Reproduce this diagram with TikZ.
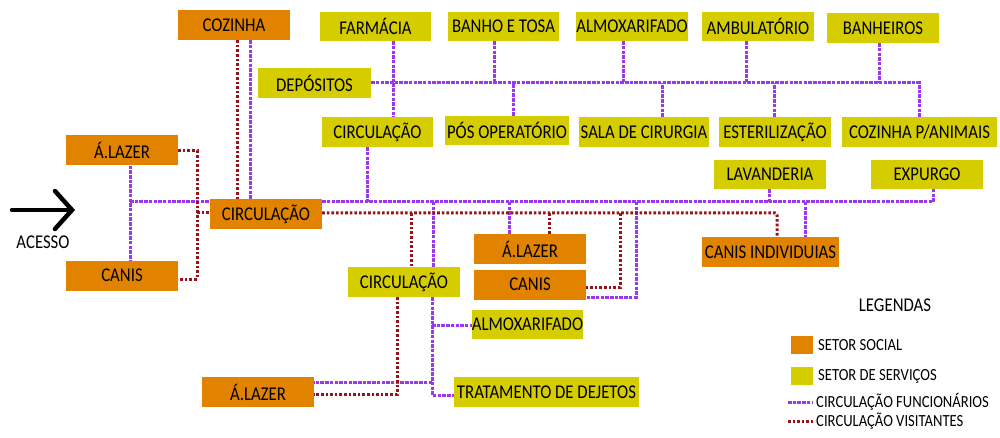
\documentclass[tikz,border=0pt]{standalone}
\usepackage{fontspec}
\setmainfont[FakeStretch=0.86]{Carlito}
\usetikzlibrary{arrows.meta}

\definecolor{laranja}{RGB}{226,131,0}
\definecolor{amarelo}{RGB}{213,205,0}
\definecolor{roxo}{RGB}{155,55,240}
\definecolor{vinho}{RGB}{150,20,25}

\begin{document}
\begin{tikzpicture}[x=1pt,y=-1pt,font=\fontsize{19.5}{22}\selectfont]
       \tikzstyle{every node}=[inner sep=0pt]
       \tikzstyle{social}=[fill=laranja, minimum height=30pt, minimum width=112pt]
       \tikzstyle{servico}=[fill=amarelo, minimum height=29pt, minimum width=112pt]
       \tikzstyle{func}=[roxo, line width=3pt, dash pattern=on 3.5pt off 1.2pt]
       \tikzstyle{visit}=[vinho, line width=3pt, dash pattern=on 2.6pt off 2pt]
       \tikzstyle{legtxt}=[anchor=west, font=\fontsize{17}{20}\selectfont]

       \useasboundingbox (0,0) rectangle (1000,438);

       % setor social
       \node[social] (cozinha)  at (234,25)    {COZINHA};
       \node[social] (lazer_a)  at (122,150.5) {Á.LAZER};
       \node[social] (circ_b)   at (266,214)   {CIRCULAÇÃO};
       \node[social] (canis_a)  at (122,275.5) {CANIS};
       \node[social] (lazer_b)  at (530,249)   {Á.LAZER};
       \node[social] (canis_b)  at (530,284.5) {CANIS};
       \node[social] (lazer_c)  at (258,392)   {Á.LAZER};
       \node[social, minimum width=137pt] (canis_ind) at (770.5,252) {CANIS INDIVIDUIAS};

       % setor de servicos
       \node[servico, minimum width=111pt] (farmacia) at (375.5,26.5) {FARMÁCIA};
       \node[servico, minimum width=111pt] (banho)    at (503.5,26.5) {BANHO E TOSA};
       \node[servico] (almox_a)   at (632,26.5)  {ALMOXARIFADO};
       \node[servico] (ambul)     at (758,26.5)  {AMBULATÓRIO};
       \node[servico, minimum height=30pt] (banheiros) at (883,28) {BANHEIROS};
       \node[servico, minimum width=113pt, minimum height=30pt] (depositos) at (314.5,83) {DEPÓSITOS};
       \node[servico, minimum width=111pt, minimum height=30pt] (circ_a) at (377.5,132) {CIRCULAÇÃO};
       \node[servico, minimum width=124pt] (posop) at (507,130.5) {PÓS OPERATÓRIO};
       \node[servico, minimum width=130pt, minimum height=30pt] (sala) at (644,132) {SALA DE CIRURGIA};
       \node[servico, minimum height=30pt] (esteril) at (775,132) {ESTERILIZAÇÃO};
       \node[servico, minimum width=155pt, minimum height=30pt] (coz_anim) at (919.5,132) {COZINHA P/ANIMAIS};
       \node[servico] (lavanderia) at (770,174.5) {LAVANDERIA};
       \node[servico] (expurgo)    at (927,174.5) {EXPURGO};
       \node[servico, minimum height=30pt] (circ_c) at (404,282) {CIRCULAÇÃO};
       \node[servico, minimum width=111pt] (almox_b) at (527.5,324.5) {ALMOXARIFADO};
       \node[servico, minimum width=185pt, minimum height=30pt] (tratamento) at (546.5,392) {TRATAMENTO DE DEJETOS};

       % acesso
       \coordinate (ac_a) at (12,210);
       \coordinate (ac_b) at (75,210);
       \draw[line width=4.5pt, line cap=round, -{Straight Barb[length=17pt,width=38pt,line cap=round]}] (ac_a) -- (ac_b);
       \node (acesso) at (43,242) {ACESSO};

       % circulacao funcionarios
       \draw[func] (lazer_a.south -| 130,0) -- (canis_a.north -| 130,0);
       \draw[func] (130,202) -- (circ_b.west |- 0,202);
       \draw[func] (cozinha.south -| 250,0) -- (circ_b.north -| 250,0);
       \draw[func] (circ_b.east |- 0,202) -- (933,202) -- (expurgo.south -| 933,0);
       \draw[func] (circ_a.south -| 367,0) -- (367,202);
       \draw[func] (depositos.east) -- (919,83) -- (coz_anim.north -| 919,0);
       \draw[func] (farmacia.south -| 393,0) -- (circ_a.north -| 393,0);
       \draw[func] (banho.south -| 494,0) -- (494,83);
       \draw[func] (posop.north -| 513,0) -- (513,83);
       \draw[func] (almox_a.south -| 623,0) -- (623,83);
       \draw[func] (sala.north -| 662,0) -- (662,83);
       \draw[func] (ambul.south -| 746,0) -- (746,83);
       \draw[func] (esteril.north -| 774,0) -- (774,83);
       \draw[func] (banheiros.south -| 879,0) -- (879,83);
       \draw[func] (lavanderia.south -| 769,0) -- (769,202);
       \draw[func] (805,202) -- (canis_ind.north -| 805,0);
       \draw[func] (433,202) -- (circ_c.north -| 433,0);
       \draw[func] (circ_c.south -| 432,0) -- (432,395) -- (tratamento.west |- 0,395);
       \draw[func] (432,325) -- (almox_b.west |- 0,325);
       \draw[func] (432,382) -- (lazer_c.east |- 0,382);
       \draw[func] (509,202) -- (lazer_b.north -| 509,0);
       \draw[func] (636,202) -- (636,297) -- (canis_b.east |- 0,297);

       % circulacao visitantes
       \draw[visit] (cozinha.south -| 237,0) -- (circ_b.north -| 237,0);
       \draw[visit] (lazer_a.east |- 0,151) -- (197,151) -- (197,279) -- (canis_a.east |- 0,279);
       \draw[visit] (197,213) -- (circ_b.west |- 0,213);
       \draw[visit, rounded corners=2pt] (circ_b.east |- 0,213) -- (777,213) -- (canis_ind.north -| 777,0);
       \draw[visit] (411,213) -- (circ_c.north -| 411,0);
       \draw[visit] (circ_c.south -| 397,0) -- (397,394) -- (lazer_c.east |- 0,394);
       \draw[visit] (549,213) -- (lazer_b.north -| 549,0);
       \draw[visit] (620,213) -- (620,287) -- (canis_b.east |- 0,287);

       % legendas
       \node (legendas) at (895,305) {LEGENDAS};
       \node[fill=laranja, minimum width=22pt, minimum height=18pt] (leg_soc) at (802,345) {};
       \node[legtxt] (leg_soc_txt) at (818,345) {SETOR SOCIAL};
       \node[fill=amarelo, minimum width=22pt, minimum height=18pt] (leg_serv) at (802,376) {};
       \node[legtxt] (leg_serv_txt) at (818,376) {SETOR DE SERVIÇOS};
       \coordinate (leg_fa) at (788,402);
       \coordinate (leg_fb) at (813,402);
       \draw[func] (leg_fa) -- (leg_fb);
       \node[legtxt] (leg_func_txt) at (816,402) {CIRCULAÇÃO FUNCIONÁRIOS};
       \coordinate (leg_va) at (788,421);
       \coordinate (leg_vb) at (813,421);
       \draw[visit] (leg_va) -- (leg_vb);
       \node[legtxt] (leg_vis_txt) at (816,421) {CIRCULAÇÃO VISITANTES};
\end{tikzpicture}
\end{document}
